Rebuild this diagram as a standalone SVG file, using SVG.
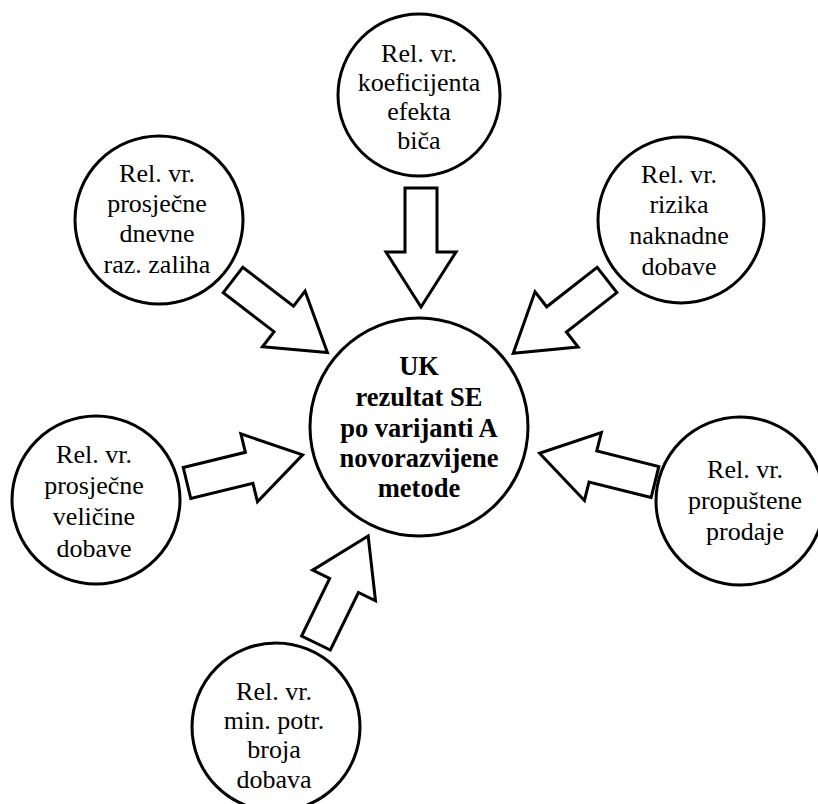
<svg xmlns="http://www.w3.org/2000/svg" width="818" height="804" viewBox="0 0 818 804" font-family="Liberation Serif, serif">
<style>
.c{fill:#fff;stroke:#000;stroke-width:3}
.a{fill:#fff;stroke:#000;stroke-width:3;stroke-linejoin:miter}
.t{font-size:26px;text-anchor:middle;fill:#000}
.b{font-weight:bold;font-size:26.5px}
</style>
<defs>
<polygon id="arr" points="0,-16 64,-16 64,-35 119,0 64,35 64,16 0,16"/>
</defs>
<rect width="818" height="804" fill="#fff"/>
<g id="connectors">
<use href="#arr" class="a" transform="translate(421,188) rotate(90)"/>
<use href="#arr" class="a" transform="translate(233,280) rotate(37.5)"/>
<use href="#arr" class="a" transform="translate(607,280) rotate(142)"/>
<use href="#arr" class="a" transform="translate(187,483) rotate(-13.7)"/>
<use href="#arr" class="a" transform="translate(655,482) rotate(-166)"/>
<use href="#arr" class="a" transform="translate(316,643) rotate(-64)"/>
</g>
<g id="n_top">
<circle class="c" cx="419" cy="95" r="81"/>
<text class="t" x="419" y="62">Rel. vr.</text>
<text class="t" x="419" y="91">koeficijenta</text>
<text class="t" x="419" y="120">efekta</text>
<text class="t" x="419" y="149">biča</text>
</g>
<g id="n_lefttop">
<circle class="c" cx="159" cy="220" r="84"/>
<text class="t" x="157" y="182">Rel. vr.</text>
<text class="t" x="157" y="212">prosječne</text>
<text class="t" x="157" y="242">dnevne</text>
<text class="t" x="157" y="273">raz. zaliha</text>
</g>
<g id="n_righttop">
<circle class="c" cx="681" cy="220" r="83"/>
<text class="t" x="679" y="183">Rel. vr.</text>
<text class="t" x="679" y="213">rizika</text>
<text class="t" x="679" y="244">naknadne</text>
<text class="t" x="679" y="275">dobave</text>
</g>
<g id="n_leftbottom">
<circle class="c" cx="96" cy="500" r="84"/>
<text class="t" x="94" y="463">Rel. vr.</text>
<text class="t" x="94" y="494">prosječne</text>
<text class="t" x="94" y="525">veličine</text>
<text class="t" x="94" y="557">dobave</text>
</g>
<g id="n_rightbottom">
<circle class="c" cx="740" cy="501" r="84"/>
<text class="t" x="745" y="478">Rel. vr.</text>
<text class="t" x="745" y="509">propuštene</text>
<text class="t" x="745" y="540">prodaje</text>
</g>
<g id="n_bottom">
<circle class="c" cx="276" cy="727" r="84"/>
<text class="t" x="274" y="700">Rel. vr.</text>
<text class="t" x="274" y="729">min. potr.</text>
<text class="t" x="274" y="758">broja</text>
<text class="t" x="274" y="788">dobava</text>
</g>
<g id="n_center">
<circle class="c" cx="419" cy="427" r="109"/>
<text class="t b" x="419" y="375">UK</text>
<text class="t b" x="419" y="406">rezultat SE</text>
<text class="t b" x="419" y="437">po varijanti A</text>
<text class="t b" x="419" y="467">novorazvijene</text>
<text class="t b" x="419" y="497">metode</text>
</g>
</svg>
